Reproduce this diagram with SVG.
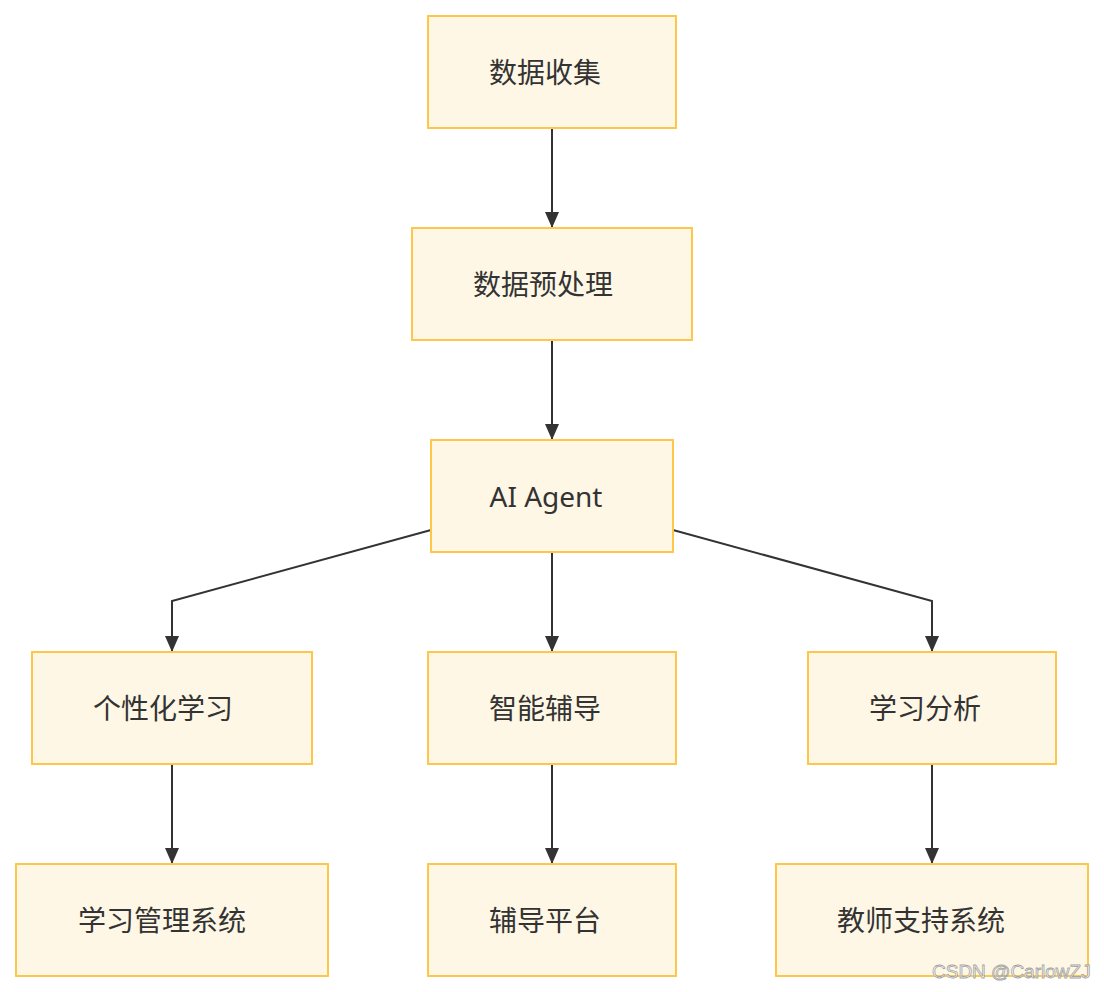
<svg xmlns="http://www.w3.org/2000/svg" width="1104" height="992" viewBox="0 0 1104 992">
<style>
.n rect{fill:#fff7e5;stroke:#fdc84a;stroke-width:2}
.n text{font-family:"Noto Sans","Noto Sans CJK SC",sans-serif;font-size:28px;fill:#333;text-anchor:middle;dominant-baseline:central}
.e{fill:none;stroke:#333;stroke-width:2}
.wm{font-family:"Liberation Sans",Arial,sans-serif;font-size:19px;fill:#fff;stroke:#999;stroke-width:0.8;opacity:0.9}
</style>
<defs>
<marker id="arr" viewBox="0 0 16 14" refX="16" refY="7" markerWidth="16" markerHeight="14" markerUnits="userSpaceOnUse" orient="auto">
<path d="M0,0 L16,7 L0,14 Z" fill="#333"/>
</marker>
</defs>
<rect width="1104" height="992" fill="#fff"/>
<g id="edges">
<path class="e" d="M552,128 V228" marker-end="url(#arr)"/>
<path class="e" d="M552,340 V440" marker-end="url(#arr)"/>
<path class="e" d="M431,530 L172,601 V652" marker-end="url(#arr)"/>
<path class="e" d="M552,552 V652" marker-end="url(#arr)"/>
<path class="e" d="M673,530 L932,601 V652" marker-end="url(#arr)"/>
<path class="e" d="M172,764 V864" marker-end="url(#arr)"/>
<path class="e" d="M552,764 V864" marker-end="url(#arr)"/>
<path class="e" d="M932,764 V864" marker-end="url(#arr)"/>
</g>
<g id="n1" class="n"><rect x="428" y="16" width="248" height="112"/><text x="545" y="72">数据收集</text></g>
<g id="n2" class="n"><rect x="412" y="228" width="280" height="112"/><text x="543" y="284">数据预处理</text></g>
<g id="n3" class="n"><rect x="431" y="440" width="242" height="112"/><text x="546" y="496">AI Agent</text></g>
<g id="n4" class="n"><rect x="32" y="652" width="280" height="112"/><text x="163" y="708">个性化学习</text></g>
<g id="n5" class="n"><rect x="428" y="652" width="248" height="112"/><text x="545" y="708">智能辅导</text></g>
<g id="n6" class="n"><rect x="808" y="652" width="248" height="112"/><text x="925" y="708">学习分析</text></g>
<g id="n7" class="n"><rect x="16" y="864" width="312" height="112"/><text x="162" y="920">学习管理系统</text></g>
<g id="n8" class="n"><rect x="428" y="864" width="248" height="112"/><text x="545" y="920">辅导平台</text></g>
<g id="n9" class="n"><rect x="776" y="864" width="312" height="112"/><text x="921" y="920">教师支持系统</text></g>
<text class="wm" x="932" y="978">CSDN @CarlowZJ</text>
</svg>
